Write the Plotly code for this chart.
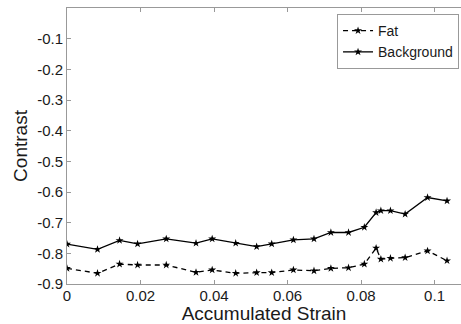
import plotly.graph_objects as go

strain = [0.0, 0.0083, 0.0143, 0.0192, 0.0270, 0.0351, 0.0395, 0.0459, 0.0516, 0.0557,
          0.0616, 0.0672, 0.0718, 0.0766, 0.0809, 0.0841, 0.0854, 0.0880, 0.0920, 0.0981, 0.1034]
fat = [-0.849, -0.865, -0.835, -0.838, -0.838, -0.862, -0.854, -0.865, -0.863, -0.863,
       -0.854, -0.857, -0.849, -0.847, -0.835, -0.783, -0.819, -0.816, -0.814, -0.792, -0.824]
background = [-0.770, -0.787, -0.758, -0.769, -0.753, -0.767, -0.753, -0.767, -0.778, -0.769,
              -0.756, -0.753, -0.732, -0.732, -0.715, -0.667, -0.661, -0.661, -0.672, -0.618, -0.629]

x_ticks = [0, 0.02, 0.04, 0.06, 0.08, 0.1]
x_ticklabels = ["0", "0.02", "0.04", "0.06", "0.08", "0.1"]
y_ticks = [-0.9, -0.8, -0.7, -0.6, -0.5, -0.4, -0.3, -0.2, -0.1]
y_ticklabels = ["-0.9", "-0.8", "-0.7", "-0.6", "-0.5", "-0.4", "-0.3", "-0.2", "-0.1"]

FONT = "Liberation Sans, Arial, sans-serif"
TEXT = "#1a1a1a"
axis_color = "#999999"

fig = go.Figure()
fig.add_trace(go.Scatter(
    x=strain, y=fat, name="Fat", mode="lines+markers",
    line=dict(color="black", width=1.3, dash="5px,4px"),
    marker=dict(symbol="star", size=6, color="black"),
))
fig.add_trace(go.Scatter(
    x=strain, y=background, name="Background", mode="lines+markers",
    line=dict(color="black", width=1.3),
    marker=dict(symbol="star", size=6, color="black"),
))

fig.update_layout(
    width=461, height=324,
    margin=dict(l=67, r=0, t=8, b=40),
    paper_bgcolor="white", plot_bgcolor="white",
    font=dict(family=FONT, color=TEXT),
    showlegend=True,
    legend=dict(
        x=0.995, xanchor="right", y=0.978, yanchor="top",
        bgcolor="white", bordercolor=axis_color, borderwidth=1,
        font=dict(size=14, family=FONT, color=TEXT),
        itemwidth=30, tracegroupgap=0,
    ),
    xaxis=dict(
        range=[0, 0.1072], tickvals=x_ticks, ticktext=x_ticklabels,
        showgrid=False, zeroline=False, showline=True, linecolor=axis_color, linewidth=1,
        mirror="ticks", ticks="inside", ticklen=4, tickcolor=axis_color,
        ticklabelstandoff=-2,
        tickfont=dict(size=15, family=FONT, color=TEXT),
        title=dict(text="Accumulated Strain", font=dict(size=19, family=FONT, color=TEXT), standoff=0),
    ),
    yaxis=dict(
        range=[-0.9, 0], tickvals=y_ticks, ticktext=y_ticklabels,
        showgrid=False, zeroline=False, showline=True, linecolor=axis_color, linewidth=1,
        ticks="inside", ticklen=4, tickcolor=axis_color,
        tickfont=dict(size=15, family=FONT, color=TEXT),
        title=dict(text="Contrast", font=dict(size=19, family=FONT, color=TEXT), standoff=4),
    ),
)

fig.write_html("out.html")
